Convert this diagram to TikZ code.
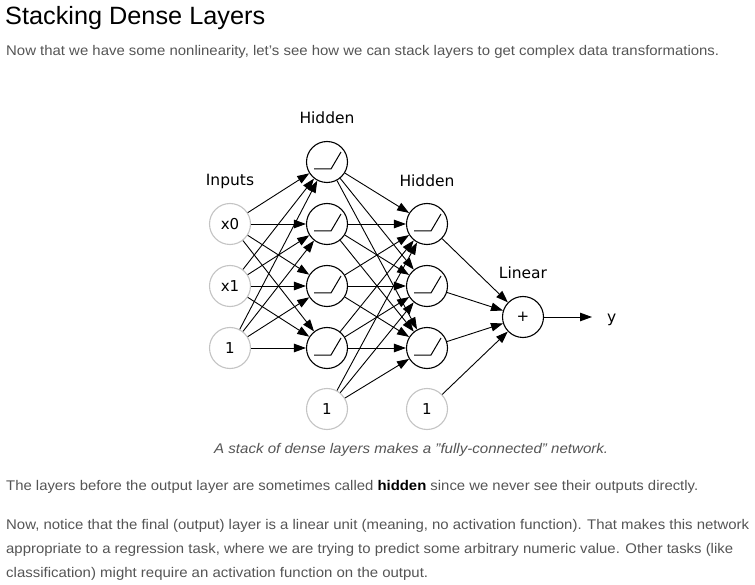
\documentclass[tikz,border=0pt]{standalone}
\usepackage{fontspec}
\usepackage{graphicx}
\setmainfont{Liberation Sans}
\newfontfamily\diafont{DejaVu Sans}
\usetikzlibrary{arrows.meta}
\definecolor{bodytext}{HTML}{555555}
\definecolor{lightring}{HTML}{C4C4C4}
\newlength\fitlen
\newcommand\fitline[2]{\settowidth\fitlen{#2}\scalebox{\fpeval{#1/(\the\fitlen)}}[1]{#2}}
\tikzset{
  neuron/.style={circle,draw=black,line width=1.1pt,minimum size=41pt,inner sep=0pt,fill=white,font=\diafont\fontsize{15}{18}\selectfont},
  inputn/.style={neuron,draw=lightring},
  lbl/.style={font=\diafont\fontsize{15.5}{18}\selectfont,inner sep=0pt},
  conn/.style={line width=0.9pt,-{Triangle[length=12pt,width=8.5pt]}},
  bodyline/.style={anchor=base west,inner sep=0pt,text=bodytext,font=\fontsize{14}{17}\selectfont},
  relu/.style={line width=1pt,line join=miter}
}
\begin{document}
\begin{tikzpicture}[x=1pt,y=-1pt]
\useasboundingbox[fill=white] (0,0) rectangle (755,585);
% texts
\node[anchor=base west,inner sep=0pt,text=black,font=\fontsize{25}{30}\selectfont] (title) at (5,25) {\fitline{260}{Stacking Dense Layers}};
\node[bodyline] (sub) at (6,56) {\fitline{713}{Now that we have some nonlinearity, let's see how we can stack layers to get complex data transformations.}};
\node[bodyline,font=\fontsize{14}{17}\selectfont\itshape] (cap) at (214,453) {\fitline{394}{A stack of dense layers makes a "fully-connected" network.}};
\node[bodyline] (p1) at (6,490) {\fitline{692}{The layers before the output layer are sometimes called \textcolor{black}{\textbf{hidden}} since we never see their outputs directly.}};
\node[bodyline] (p2a) at (6,529) {\fitline{743}{Now, notice that the final (output) layer is a linear unit (meaning, no activation function). That makes this network}};
\node[bodyline] (p2b) at (6,553) {\fitline{727}{appropriate to a regression task, where we are trying to predict some arbitrary numeric value. Other tasks (like}};
\node[bodyline] (p2c) at (6,577) {\fitline{422}{classification) might require an activation function on the output.}};
% labels
\node[lbl] (lh1) at (327,118) {Hidden};
\node[lbl] (lin) at (230,181) {Inputs};
\node[lbl] (lh2) at (427,181) {Hidden};
\node[lbl] (llin) at (523,273) {Linear};
% nodes
\node[inputn] (i0) at (230,224) {x0};
\node[inputn] (i1) at (230,286) {x1};
\node[inputn] (ib) at (230,348) {1};
\node[neuron] (h1) at (327,162) {};
\node[neuron] (h2) at (327,224) {};
\node[neuron] (h3) at (327,286) {};
\node[neuron] (h4) at (327,348) {};
\node[neuron] (g1) at (427,224) {};
\node[neuron] (g2) at (427,286) {};
\node[neuron] (g3) at (427,348) {};
\node[inputn] (b1) at (327,409) {1};
\node[inputn] (b2) at (427,409) {1};
\node[neuron] (out) at (523,317) {+};
\coordinate (yend) at (592,317);
\node[lbl,anchor=base west] (ylab) at (607,323) {y};
% relu glyphs
\foreach \n in {h1,h2,h3,h4,g1,g2,g3}
  \draw[relu] ([shift={(-13,7)}]\n.center) -- ++(17,0) -- ++(10,-17);
% connections
\foreach \a in {i0,i1,ib}
  \foreach \b in {h1,h2,h3,h4}
    \draw[conn] (\a) -- (\b);
\foreach \a in {h1,h2,h3,h4,b1}
  \foreach \b in {g1,g2,g3}
    \draw[conn] (\a) -- (\b);
\foreach \a in {g1,g2,g3,b2}
  \draw[conn] (\a) -- (out);
\draw[conn] (out) -- (yend);
\end{tikzpicture}
\end{document}
